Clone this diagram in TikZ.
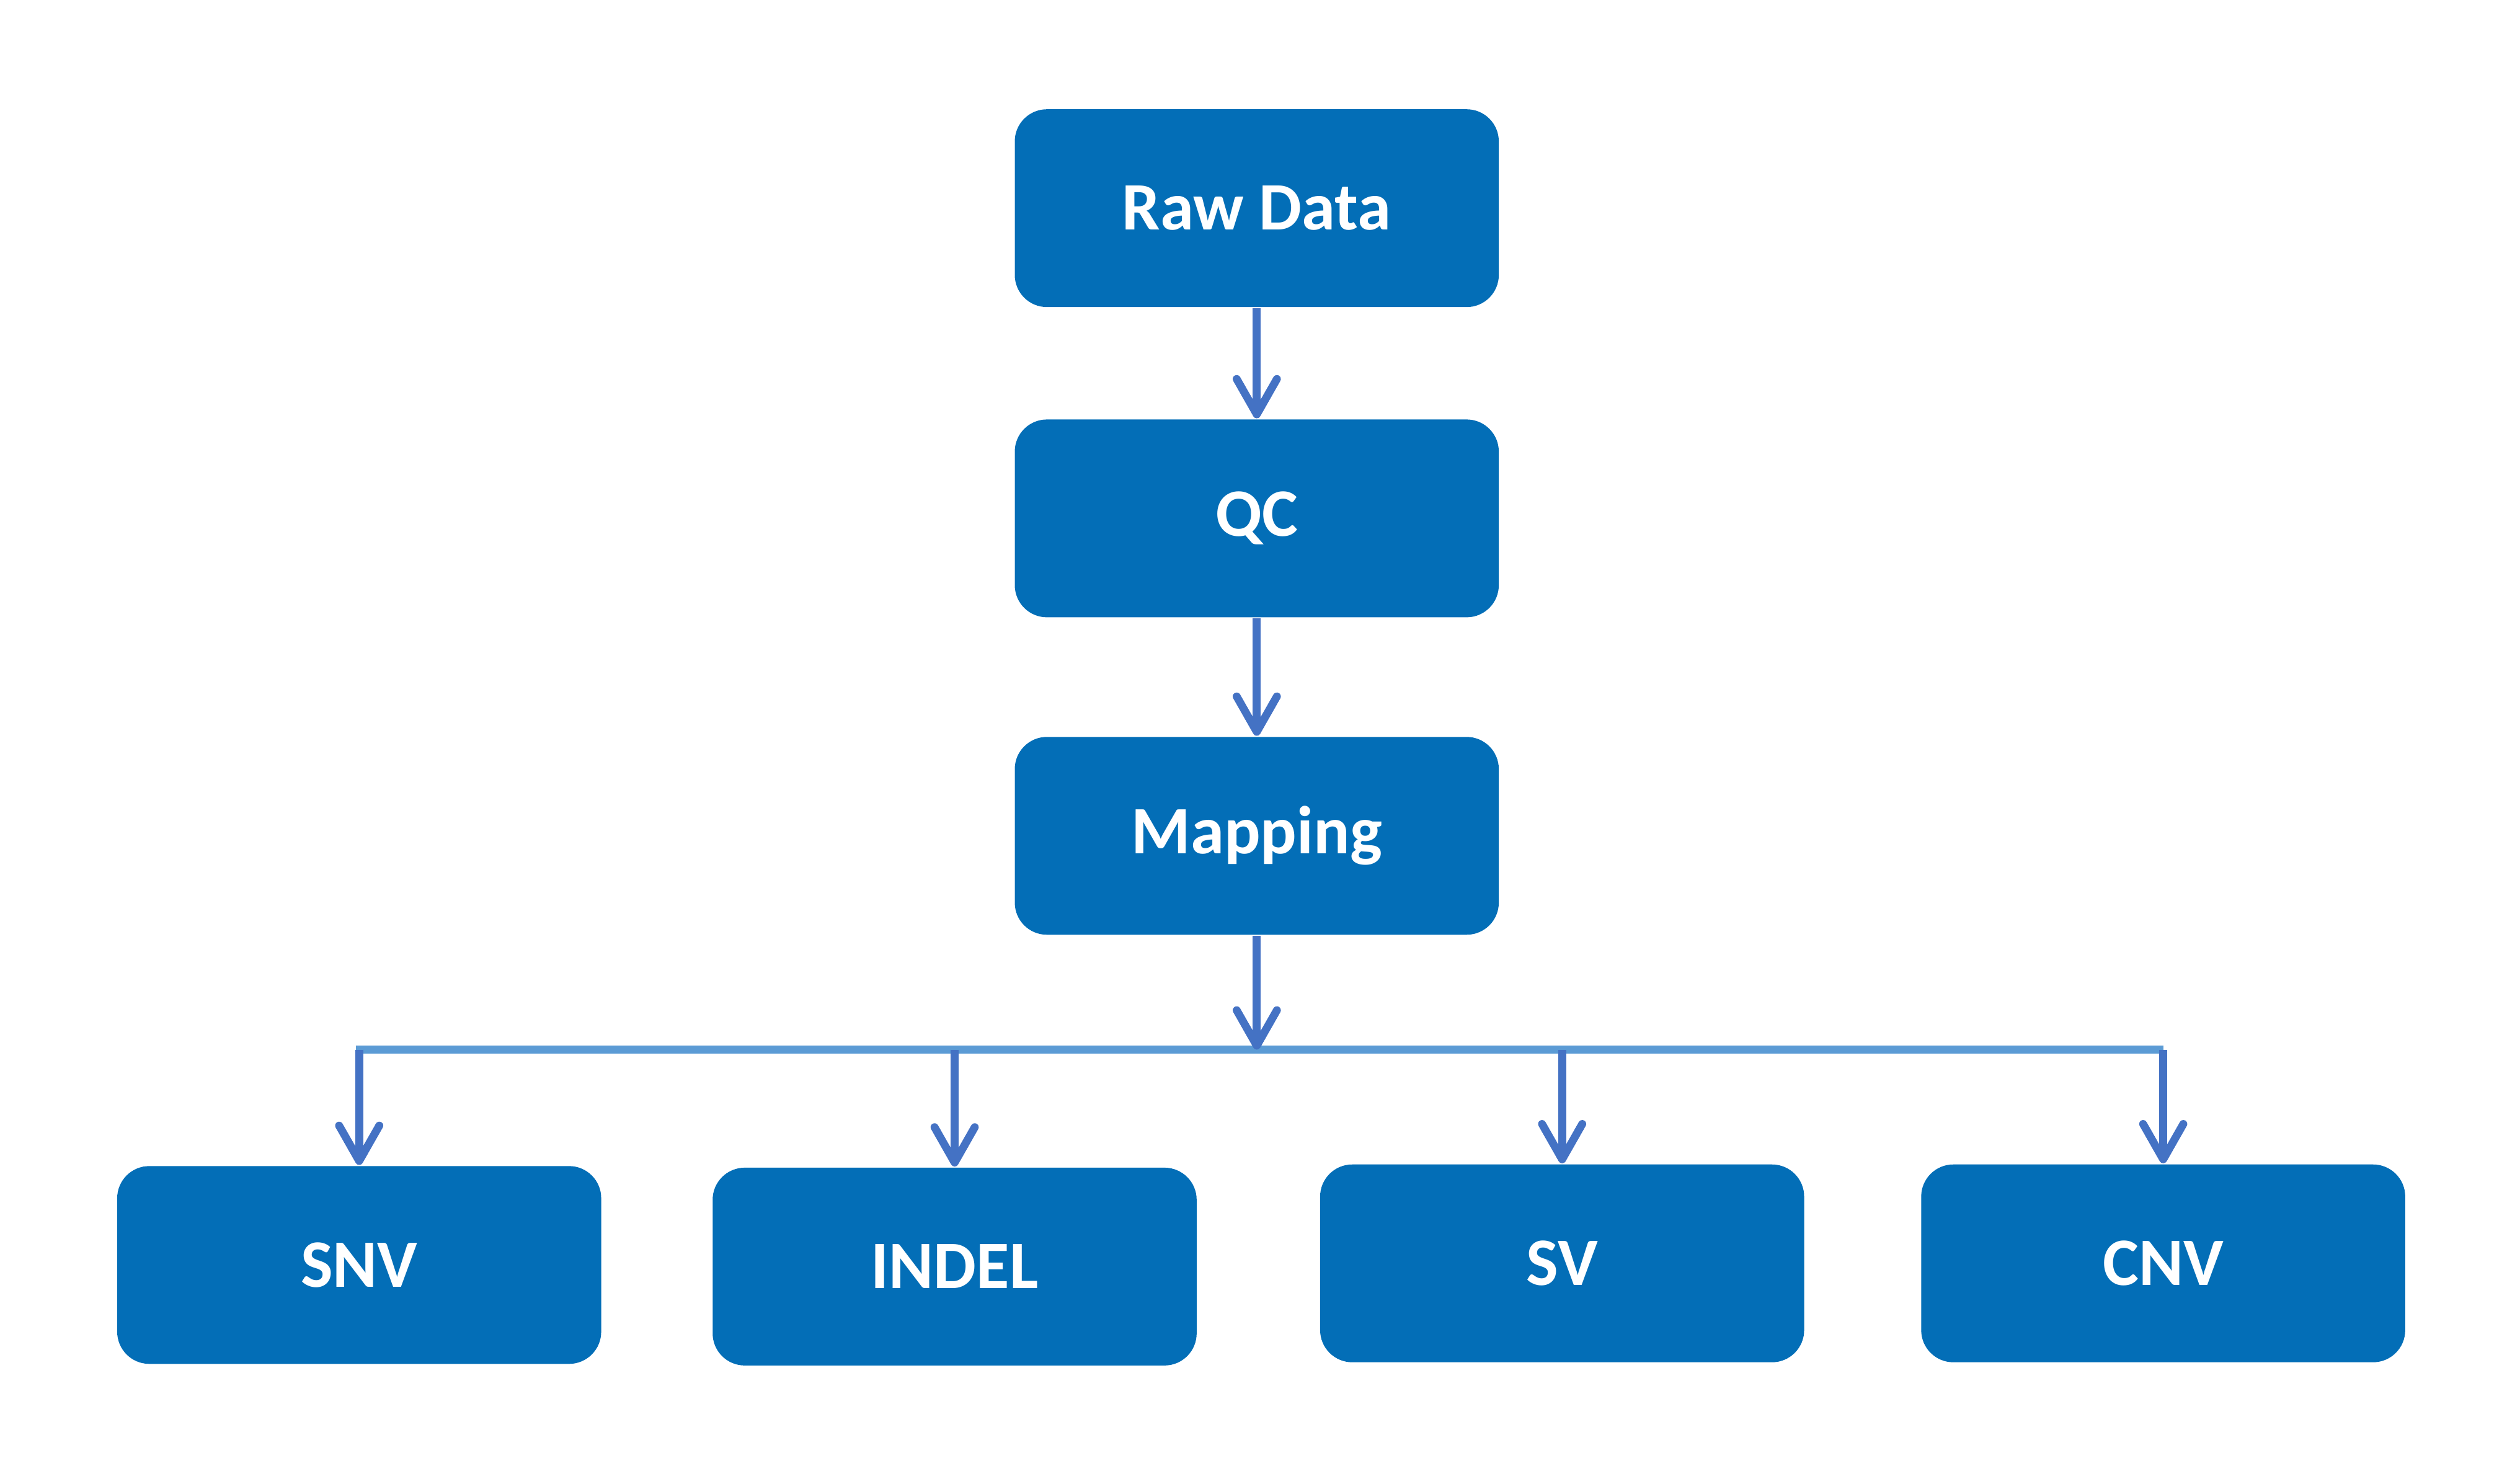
\documentclass[tikz,border=0pt]{standalone}
\usepackage{xcolor}
\usepackage{fontspec}
\setmainfont{Carlito}
\usepackage{tikz}
\usetikzlibrary{positioning, calc, arrows.meta}
\definecolor{boxblue}{RGB}{3,110,183}
\definecolor{arrowblue}{RGB}{68,114,196}
\definecolor{busblue}{RGB}{91,155,213}

\begin{document}
\begin{tikzpicture}[x=0.01cm, y=-0.01cm,
	stagebox/.style={rectangle, rounded corners=2mm, fill=boxblue, text=white,
		minimum width=30.1mm, minimum height=12.3mm, inner sep=0pt,
		font=\fontsize{12}{14}\selectfont\bfseries},
	flow/.style={arrowblue, line width=1.4pt,
		-{Straight Barb[length=2.2mm, width=2.5mm, round]}},
	bus/.style={busblue, line width=1.4pt}]
	\useasboundingbox (0,0) rectangle (1568,923);
	\node[stagebox] (raw) at (782,129.5) {Raw Data};
	\node[stagebox] (qc) at (782,322.5) {QC};
	\node[stagebox] (map) at (782,520) {Mapping};
	
	\node[stagebox] (snv) at (223.5,787) {SNV};
	\node[stagebox] (indel) at (594,788) {INDEL};
	\node[stagebox] (sv) at (972,786) {SV};
	\node[stagebox] (cnv) at (1346,786) {CNV};
	
	\coordinate (busmid) at (782,653);
	\draw[bus] ($(snv.north |- busmid)+(-2,0)$) -- (cnv.north |- busmid);
	
	\draw[flow] (raw.south) -- (qc.north);
	\draw[flow] (qc.south) -- (map.north);
	\draw[flow] (map.south) -- (busmid);
	\foreach \leaf in {snv, indel, sv, cnv}
		\draw[flow] (\leaf.north |- busmid) -- (\leaf.north);
	
	%%\node at (782,900) {};
\end{tikzpicture}
\end{document}
